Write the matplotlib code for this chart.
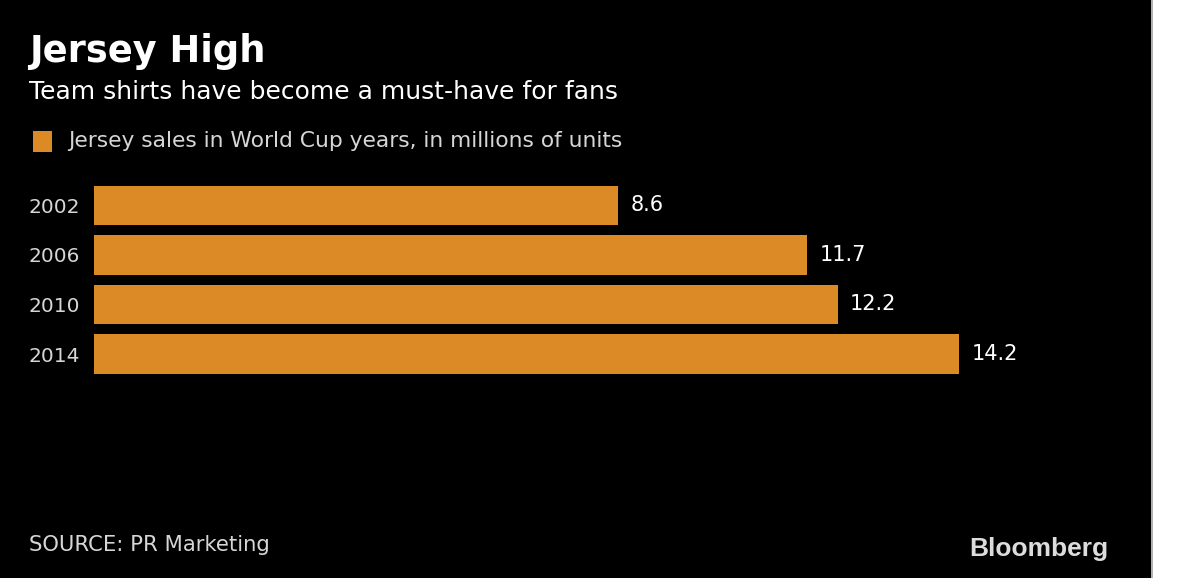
import matplotlib
matplotlib.use("Agg")
import matplotlib.pyplot as plt
from matplotlib.patches import Rectangle

years = ["2002", "2006", "2010", "2014"]
sales = [8.6, 11.7, 12.2, 14.2]

title = "Jersey High"
subtitle = "Team shirts have become a must-have for fans"
legend_label = "Jersey sales in World Cup years, in millions of units"
source = "SOURCE: PR Marketing"

font = "DejaVu Sans"

W, H = 1200, 578
fig = plt.figure(figsize=(W / 100, H / 100), dpi=100, facecolor="white")
bg = fig.add_axes([0, 0, 1, 1], zorder=-10)
bg.set_xlim(0, W)
bg.set_ylim(H, 0)
bg.axis("off")
bg.add_patch(Rectangle((0, 0), 1151, H, facecolor="black", edgecolor="none"))
bg.add_patch(Rectangle((1151, 0), 1.5, H, facecolor="#b0b0b0", edgecolor="none"))

orange = "#dc8a25"
px_per_unit = 60.95
xmax = 17
left_px = 94
top_px, bot_px = 180.75, 378.75
ax = fig.add_axes([left_px / W, 1 - bot_px / H, xmax * px_per_unit / W, (bot_px - top_px) / H])
ax.set_facecolor("none")
ypos = list(range(len(years)))
ax.barh(ypos, sales, height=0.79, color=orange)
ax.set_xlim(0, xmax)
ax.set_ylim(len(years) - 0.5, -0.5)
ax.set_yticks(ypos)
ax.set_yticklabels(years, fontsize=14.5, color="#d6d6d6", family=font)
ax.tick_params(axis="y", length=0, pad=10)
ax.set_xticks([])
for s in ax.spines.values():
    s.set_visible(False)
for y, v in zip(ypos, sales):
    ax.annotate(f"{v}", (v, y), xytext=(9, 0), textcoords="offset points",
                ha="left", va="center", fontsize=15, color="white", family=font)

def fx(x):
    return x / W

def fy(y):
    return 1 - y / H

fig.text(fx(29), fy(51), title, fontsize=26.5, fontweight="bold", color="white",
         family=font, va="center", ha="left")
fig.text(fx(29), fy(92), subtitle, fontsize=18, color="white",
         family=font, va="center", ha="left")
bg.add_patch(Rectangle((33, 131), 19, 21, facecolor=orange, edgecolor="none"))
fig.text(fx(68), fy(141), legend_label, fontsize=15.7, color="#d6d6d6",
         family=font, va="center", ha="left")
fig.text(fx(29), fy(545), source, fontsize=15.2, color="#d6d6d6",
         family=font, va="center", ha="left")
fig.text(fx(1108), fy(549), "Bloomberg", fontsize=19, fontweight="bold", color="#dcdcdc",
         family="Liberation Sans", va="center", ha="right")

fig.savefig("out.png", dpi=100, facecolor=fig.get_facecolor())
